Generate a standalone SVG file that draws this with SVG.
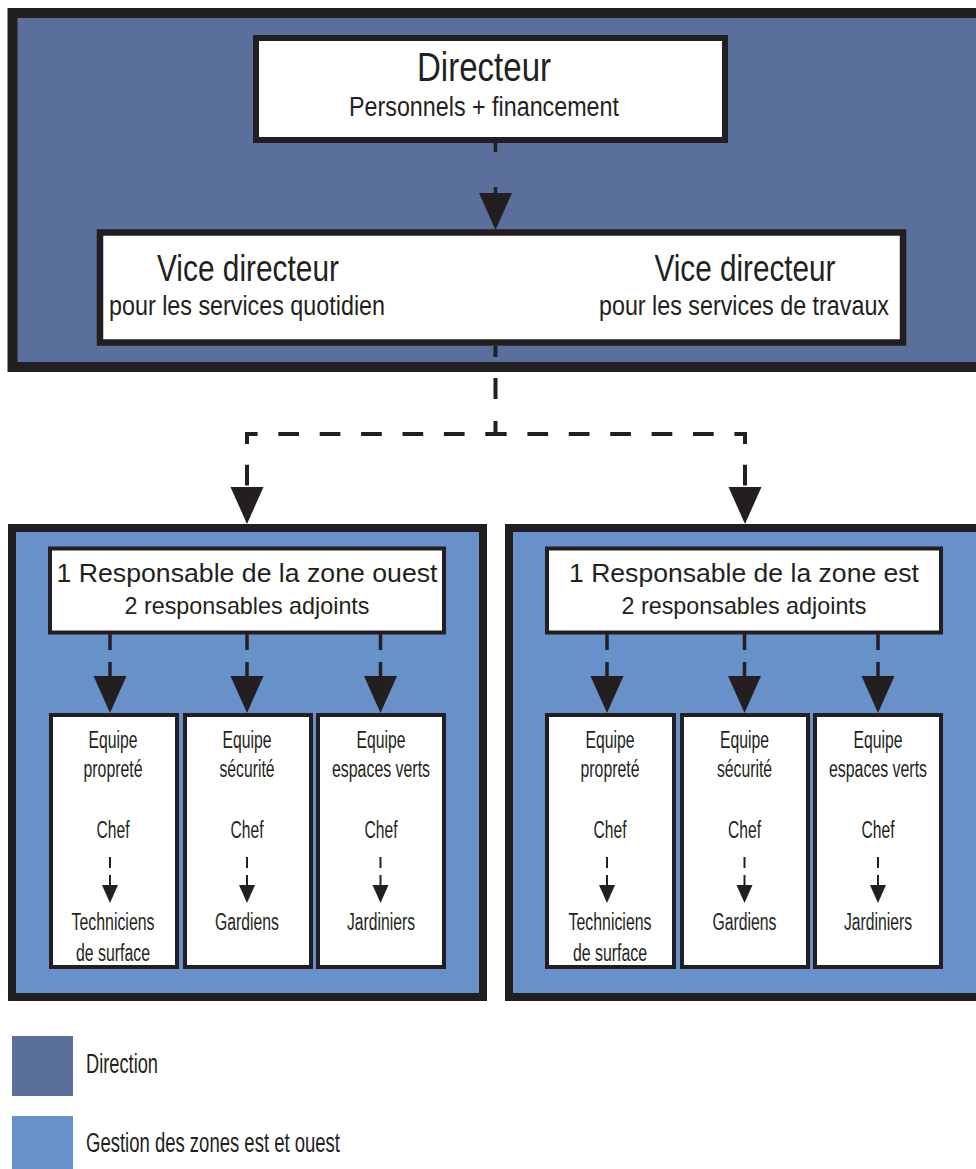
<svg xmlns="http://www.w3.org/2000/svg" xmlns:xlink="http://www.w3.org/1999/xlink" width="976" height="1169" viewBox="0 0 976 1169">
<defs>
<style>
.dir{fill:#5b6f9c;stroke:#231f20;stroke-width:10;}
.zone{fill:#6891ca;stroke:#231f20;stroke-width:8;}
.wb{fill:#ffffff;stroke:#231f20;}
text{font-family:"Liberation Sans Narrow","Liberation Sans",Arial,sans-serif;fill:#231f20;text-anchor:middle;}
.reg{font-family:"Liberation Sans",Arial,sans-serif;}
.t1{font-size:41px;}
.t2{font-size:27px;}
.t3{font-size:37px;}
.t4{font-size:26px;}
.t5{font-size:24px;}
.tm{font-size:23px;}
.lg{font-size:27px;text-anchor:start;}
.ln{stroke:#231f20;stroke-width:3.5;fill:none;}
.dl{stroke:#231f20;stroke-width:4;fill:none;stroke-dasharray:20.7 20.7;}
.sd{stroke:#231f20;stroke-width:4;fill:none;}
.sl{stroke:#231f20;stroke-width:2;fill:none;}
.ah{fill:#231f20;}
</style>
<path id="bigArrow" class="ah" d="M-16.5,-37 L16.5,-37 L0,0 Z"/>
<path id="smallArrow" class="ah" d="M-8,-18 L8,-18 L0,0 Z"/>
</defs>

<g id="direction">
<rect class="dir" x="12.5" y="13" width="1000" height="354"/>
</g>

<g id="directeur">
<rect class="wb" x="256" y="38" width="469" height="102" stroke-width="6"/>
<text class="t1" x="484" y="81" textLength="134" lengthAdjust="spacingAndGlyphs">Directeur</text>
<text class="t2" x="484" y="116" textLength="270" lengthAdjust="spacingAndGlyphs">Personnels + financement</text>
</g>

<g id="vice-directeurs">
<rect class="wb" x="100" y="232.5" width="803" height="110" stroke-width="6.5"/>
<text class="t3" x="248" y="281" textLength="182" lengthAdjust="spacingAndGlyphs">Vice directeur</text>
<text class="t2" x="247" y="315" textLength="276" lengthAdjust="spacingAndGlyphs">pour les services quotidien</text>
<text class="t3" x="745" y="281" textLength="181" lengthAdjust="spacingAndGlyphs">Vice directeur</text>
<text class="t2" x="744" y="315" textLength="290" lengthAdjust="spacingAndGlyphs">pour les services de travaux</text>
</g>

<g id="zone-ouest">
<rect class="zone" x="12" y="528" width="471" height="469"/>
</g>
<g id="zone-est">
<rect class="zone" x="509" y="528" width="500" height="469"/>
</g>

<g id="resp-ouest">
<rect class="wb" x="50" y="548.5" width="394" height="84" stroke-width="4"/>
<text class="t4 reg" x="247" y="582" textLength="381" lengthAdjust="spacingAndGlyphs">1 Responsable de la zone ouest</text>
<text class="t5 reg" x="247" y="614" textLength="245" lengthAdjust="spacingAndGlyphs">2 responsables adjoints</text>
</g>
<g id="resp-est">
<rect class="wb" x="547" y="548.5" width="394" height="84" stroke-width="4"/>
<text class="t4 reg" x="744" y="582" textLength="350" lengthAdjust="spacingAndGlyphs">1 Responsable de la zone est</text>
<text class="t5 reg" x="744" y="614" textLength="245" lengthAdjust="spacingAndGlyphs">2 responsables adjoints</text>
</g>

<g id="ouest-proprete">
<rect class="wb" x="51" y="715" width="126" height="252" stroke-width="4"/>
<text class="tm" x="113" y="748" textLength="49" lengthAdjust="spacingAndGlyphs">Equipe</text>
<text class="tm" x="113" y="777" textLength="59" lengthAdjust="spacingAndGlyphs">propreté</text>
<text class="tm" x="113" y="838" textLength="33" lengthAdjust="spacingAndGlyphs">Chef</text>
<text class="tm" x="113" y="930" textLength="83" lengthAdjust="spacingAndGlyphs">Techniciens</text>
<text class="tm" x="113" y="961" textLength="74" lengthAdjust="spacingAndGlyphs">de surface</text>
</g>
<g id="ouest-securite">
<rect class="wb" x="185" y="715" width="126" height="252" stroke-width="4"/>
<text class="tm" x="247" y="748" textLength="49" lengthAdjust="spacingAndGlyphs">Equipe</text>
<text class="tm" x="247" y="777" textLength="55" lengthAdjust="spacingAndGlyphs">sécurité</text>
<text class="tm" x="247" y="838" textLength="33" lengthAdjust="spacingAndGlyphs">Chef</text>
<text class="tm" x="247" y="930" textLength="64" lengthAdjust="spacingAndGlyphs">Gardiens</text>
</g>
<g id="ouest-espaces-verts">
<rect class="wb" x="318" y="715" width="126" height="252" stroke-width="4"/>
<text class="tm" x="381" y="748" textLength="49" lengthAdjust="spacingAndGlyphs">Equipe</text>
<text class="tm" x="381" y="777" textLength="98" lengthAdjust="spacingAndGlyphs">espaces verts</text>
<text class="tm" x="381" y="838" textLength="33" lengthAdjust="spacingAndGlyphs">Chef</text>
<text class="tm" x="381" y="930" textLength="68" lengthAdjust="spacingAndGlyphs">Jardiniers</text>
</g>

<g id="est-proprete">
<rect class="wb" x="547" y="715" width="127" height="252" stroke-width="4"/>
<text class="tm" x="610" y="748" textLength="49" lengthAdjust="spacingAndGlyphs">Equipe</text>
<text class="tm" x="610" y="777" textLength="59" lengthAdjust="spacingAndGlyphs">propreté</text>
<text class="tm" x="610" y="838" textLength="33" lengthAdjust="spacingAndGlyphs">Chef</text>
<text class="tm" x="610" y="930" textLength="83" lengthAdjust="spacingAndGlyphs">Techniciens</text>
<text class="tm" x="610" y="961" textLength="74" lengthAdjust="spacingAndGlyphs">de surface</text>
</g>
<g id="est-securite">
<rect class="wb" x="682" y="715" width="126" height="252" stroke-width="4"/>
<text class="tm" x="744.5" y="748" textLength="49" lengthAdjust="spacingAndGlyphs">Equipe</text>
<text class="tm" x="744.5" y="777" textLength="55" lengthAdjust="spacingAndGlyphs">sécurité</text>
<text class="tm" x="744.5" y="838" textLength="33" lengthAdjust="spacingAndGlyphs">Chef</text>
<text class="tm" x="744.5" y="930" textLength="64" lengthAdjust="spacingAndGlyphs">Gardiens</text>
</g>
<g id="est-espaces-verts">
<rect class="wb" x="815" y="715" width="126" height="252" stroke-width="4"/>
<text class="tm" x="878" y="748" textLength="49" lengthAdjust="spacingAndGlyphs">Equipe</text>
<text class="tm" x="878" y="777" textLength="98" lengthAdjust="spacingAndGlyphs">espaces verts</text>
<text class="tm" x="878" y="838" textLength="33" lengthAdjust="spacingAndGlyphs">Chef</text>
<text class="tm" x="878" y="930" textLength="68" lengthAdjust="spacingAndGlyphs">Jardiniers</text>
</g>

<g id="connectors">
<line class="ln" x1="495.5" y1="143" x2="495.5" y2="152"/>
<line class="ln" x1="495.5" y1="187" x2="495.5" y2="194"/>
<use xlink:href="#bigArrow" x="495.5" y="230"/>
<line class="sd" x1="495.5" y1="346" x2="495.5" y2="357"/>
<line class="sd" x1="495.5" y1="378" x2="495.5" y2="399"/>
<line class="sd" x1="495.5" y1="421" x2="495.5" y2="436"/>
<path class="dl" d="M506,434 H247 V490"/>
<path class="dl" d="M486,434 H745 V490"/>
<use xlink:href="#bigArrow" x="247" y="524"/>
<use xlink:href="#bigArrow" x="745" y="524"/>
<g>
<line class="ln" x1="110" y1="634" x2="110" y2="650"/><line class="ln" x1="110" y1="662" x2="110" y2="677"/><use xlink:href="#bigArrow" x="110" y="713"/>
<line class="ln" x1="247" y1="634" x2="247" y2="650"/><line class="ln" x1="247" y1="662" x2="247" y2="677"/><use xlink:href="#bigArrow" x="247" y="713"/>
<line class="ln" x1="380.5" y1="634" x2="380.5" y2="650"/><line class="ln" x1="380.5" y1="662" x2="380.5" y2="677"/><use xlink:href="#bigArrow" x="380.5" y="713"/>
<line class="ln" x1="607" y1="634" x2="607" y2="650"/><line class="ln" x1="607" y1="662" x2="607" y2="677"/><use xlink:href="#bigArrow" x="607" y="713"/>
<line class="ln" x1="744.5" y1="634" x2="744.5" y2="650"/><line class="ln" x1="744.5" y1="662" x2="744.5" y2="677"/><use xlink:href="#bigArrow" x="744.5" y="713"/>
<line class="ln" x1="878" y1="634" x2="878" y2="650"/><line class="ln" x1="878" y1="662" x2="878" y2="677"/><use xlink:href="#bigArrow" x="878" y="713"/>
</g>
<g>
<line class="sl" x1="110" y1="857" x2="110" y2="868"/><line class="sl" x1="110" y1="875" x2="110" y2="886"/><use xlink:href="#smallArrow" x="110" y="903"/>
<line class="sl" x1="247" y1="857" x2="247" y2="868"/><line class="sl" x1="247" y1="875" x2="247" y2="886"/><use xlink:href="#smallArrow" x="247" y="903"/>
<line class="sl" x1="380.5" y1="857" x2="380.5" y2="868"/><line class="sl" x1="380.5" y1="875" x2="380.5" y2="886"/><use xlink:href="#smallArrow" x="380.5" y="903"/>
<line class="sl" x1="607" y1="857" x2="607" y2="868"/><line class="sl" x1="607" y1="875" x2="607" y2="886"/><use xlink:href="#smallArrow" x="607" y="903"/>
<line class="sl" x1="744.5" y1="857" x2="744.5" y2="868"/><line class="sl" x1="744.5" y1="875" x2="744.5" y2="886"/><use xlink:href="#smallArrow" x="744.5" y="903"/>
<line class="sl" x1="878" y1="857" x2="878" y2="868"/><line class="sl" x1="878" y1="875" x2="878" y2="886"/><use xlink:href="#smallArrow" x="878" y="903"/>
</g>
</g>

<g id="legend">
<rect x="12" y="1036" width="61" height="60" fill="#5b6f9c"/>
<text class="lg" x="86" y="1073" textLength="72" lengthAdjust="spacingAndGlyphs">Direction</text>
<rect x="12" y="1116" width="61" height="60" fill="#6891ca"/>
<text class="lg" x="86" y="1152" textLength="254" lengthAdjust="spacingAndGlyphs">Gestion des zones est et ouest</text>
</g>
</svg>
